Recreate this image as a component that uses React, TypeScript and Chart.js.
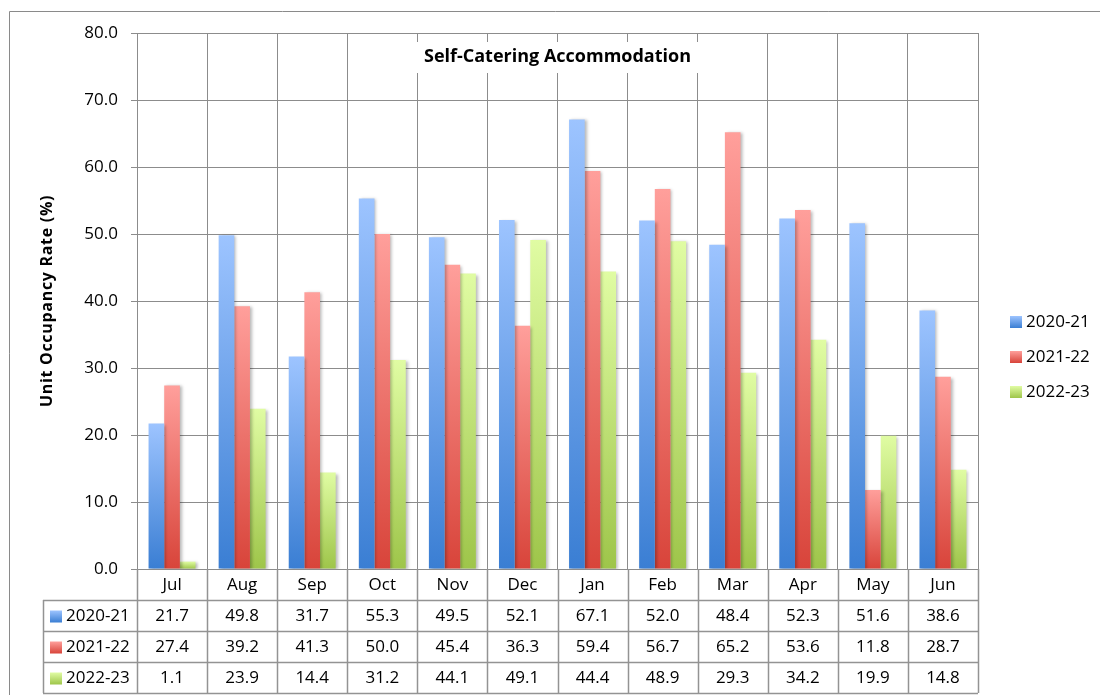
import React, { useEffect, useRef } from "react";
import { Chart, registerables } from "chart.js";

Chart.register(...registerables);

const months = ["Jul", "Aug", "Sep", "Oct", "Nov", "Dec", "Jan", "Feb", "Mar", "Apr", "May", "Jun"];
const seriesNames = ["2020-21", "2021-22", "2022-23"];
const values2020 = [21.7, 49.8, 31.7, 55.3, 49.5, 52.1, 67.1, 52.0, 48.4, 52.3, 51.6, 38.6];
const values2021 = [27.4, 39.2, 41.3, 50.0, 45.4, 36.3, 59.4, 56.7, 65.2, 53.6, 11.8, 28.7];
const values2022 = [1.1, 23.9, 14.4, 31.2, 44.1, 49.1, 44.4, 48.9, 29.3, 34.2, 19.9, 14.8];
const yMin = 0;
const yMax = 80;
const yStep = 10;
const chartTitle = "Self-Catering Accommodation";
const yAxisTitle = "Unit Occupancy Rate (%)";

const seriesValues = [values2020, values2021, values2022];
const topColors = ["#9DC4FF", "#FF9F9B", "#E0FCA3"];
const bottomColors = ["#3A7ED3", "#D8443A", "#9EC54A"];

const FONT = "'Open Sans', Lato, sans-serif";
const GRID = "#8c8c8c";
const TABLE = "#939393";

function boxGradient(ctx: CanvasRenderingContext2D, i: number, top: number, bottom: number) {
  const g = ctx.createLinearGradient(0, top, 0, bottom);
  g.addColorStop(0, topColors[i]);
  g.addColorStop(1, bottomColors[i]);
  return g;
}

export default function App() {
  const ref = useRef<HTMLCanvasElement | null>(null);

  useEffect(() => {
    document.body.style.margin = "0";
    document.body.style.overflow = "hidden";
    const canvas = ref.current;
    if (!canvas) return;

    const decorPlugin = {
      id: "decor",
      beforeDatasetsDraw(chart: any) {
        const c = chart.ctx;
        c.save();
        c.shadowColor = "rgba(0,0,0,0.28)";
        c.shadowBlur = 3;
        c.shadowOffsetX = 2;
        c.shadowOffsetY = 1;
      },
      afterDatasetsDraw(chart: any) {
        const c = chart.ctx;
        c.restore();
        const area = chart.chartArea;
        c.save();
        c.font = `bold 18px ${FONT}`;
        const tw = c.measureText(chartTitle).width;
        const cx = (area.left + area.right) / 2;
        c.fillStyle = "#ffffff";
        c.fillRect(cx - tw / 2 - 7, 42, tw + 14, 31);
        c.fillStyle = "#000000";
        c.textAlign = "center";
        c.textBaseline = "middle";
        c.fillText(chartTitle, cx, 57);
        c.restore();
      },
      afterDraw(chart: any) {
        const c = chart.ctx;
        const area = chart.chartArea;
        const xs = chart.scales.x;
        const half = (xs.getPixelForValue(1) - xs.getPixelForValue(0)) / 2;
        const rowTop = area.bottom + 31;
        const rowH = 31;
        const tableLeft = 43;
        c.save();
        c.strokeStyle = "#8a8a8a";
        c.lineWidth = 1;
        c.beginPath();
        c.moveTo(9.5, 700);
        c.lineTo(9.5, 11.5);
        c.lineTo(1105, 11.5);
        c.stroke();

        c.save();
        c.translate(47, (area.top + area.bottom) / 2);
        c.rotate(-Math.PI / 2);
        c.font = `bold 16px ${FONT}`;
        (c as any).letterSpacing = "0.7px";
        c.fillStyle = "#000";
        c.textAlign = "center";
        c.textBaseline = "middle";
        c.fillText(yAxisTitle, 0, 0);
        c.restore();

        c.strokeStyle = TABLE;
        c.lineWidth = 1.5;
        c.beginPath();
        for (let i = 0; i <= months.length; i++) {
          const x = Math.round(xs.getPixelForValue(i) - half) + 0.5;
          c.moveTo(x, area.bottom);
          c.lineTo(x, rowTop + rowH * seriesNames.length);
        }
        for (let r = 0; r <= seriesNames.length; r++) {
          const y = Math.round(rowTop + rowH * r) + 0.5;
          c.moveTo(tableLeft, y);
          c.lineTo(area.right, y);
        }
        c.moveTo(tableLeft + 0.5, rowTop);
        c.lineTo(tableLeft + 0.5, rowTop + rowH * seriesNames.length);
        c.stroke();

        c.font = `17px ${FONT}`;
        c.fillStyle = "#000";
        c.textBaseline = "middle";
        for (let r = 0; r < seriesNames.length; r++) {
          const yc = rowTop + rowH * r + rowH / 2 + 1;
          c.fillStyle = boxGradient(c, r, yc - 6, yc + 6);
          c.fillRect(50, yc - 6, 12, 12);
          c.fillStyle = "#000";
          c.textAlign = "left";
          c.fillText(seriesNames[r], 66, yc);
          c.textAlign = "center";
          seriesValues[r].forEach((v, i) => {
            c.fillText(v.toFixed(1), xs.getPixelForValue(i), yc);
          });
        }

        const legendYs = [322, 357, 392];
        for (let r = 0; r < seriesNames.length; r++) {
          const yc = legendYs[r];
          c.fillStyle = boxGradient(c, r, yc - 6, yc + 6);
          c.fillRect(1010, yc - 6, 12, 12);
          c.fillStyle = "#000";
          c.textAlign = "left";
          c.fillText(seriesNames[r], 1026, yc);
        }
        c.restore();
      },
    };

    const chart = new Chart(canvas, {
      type: "bar",
      data: {
        labels: months,
        datasets: seriesNames.map((name, i) => ({
          label: name,
          data: seriesValues[i],
          backgroundColor: (ctx: any) => {
            const ch = ctx.chart;
            if (!ch.chartArea || ctx.type !== "data") return bottomColors[i];
            const y = ch.scales.y;
            const top = y.getPixelForValue(ctx.raw as number);
            const bottom = y.getPixelForValue(0);
            if (Math.abs(bottom - top) < 0.5) return bottomColors[i];
            return boxGradient(ch.ctx, i, top, bottom);
          },
          borderWidth: 0,
          categoryPercentage: 0.67,
          barPercentage: 1.0,
        })),
      },
      options: {
        responsive: false,
        animation: false,
        events: [],
        layout: { padding: { left: 0, right: 122, top: 33, bottom: 95 } },
        plugins: {
          legend: { display: false },
          title: { display: false },
          tooltip: { enabled: false },
        },
        scales: {
          x: {
            afterFit: (s: any) => {
              s.height = 31;
            },
            grid: { color: GRID, lineWidth: 1, offset: true, drawTicks: false },
            border: { color: GRID, width: 1 },
            ticks: { color: "#000", font: { family: FONT, size: 17 }, padding: 6 },
          },
          y: {
            min: yMin,
            max: yMax,
            afterFit: (s: any) => {
              s.width = 137;
            },
            grid: { color: GRID, lineWidth: 1, tickLength: 6, tickColor: GRID },
            border: { color: GRID, width: 1 },
            ticks: {
              stepSize: yStep,
              color: "#000",
              padding: 13,
              font: { family: FONT, size: 17 },
              callback: (v: any) => Number(v).toFixed(1),
            },
          },
        },
      },
      plugins: [decorPlugin],
    });

    return () => chart.destroy();
  }, []);

  return (
    <div style={{ width: 1100, height: 695, background: "#fff" }}>
      <canvas ref={ref} width={1100} height={695} style={{ display: "block" }} />
    </div>
  );
}
